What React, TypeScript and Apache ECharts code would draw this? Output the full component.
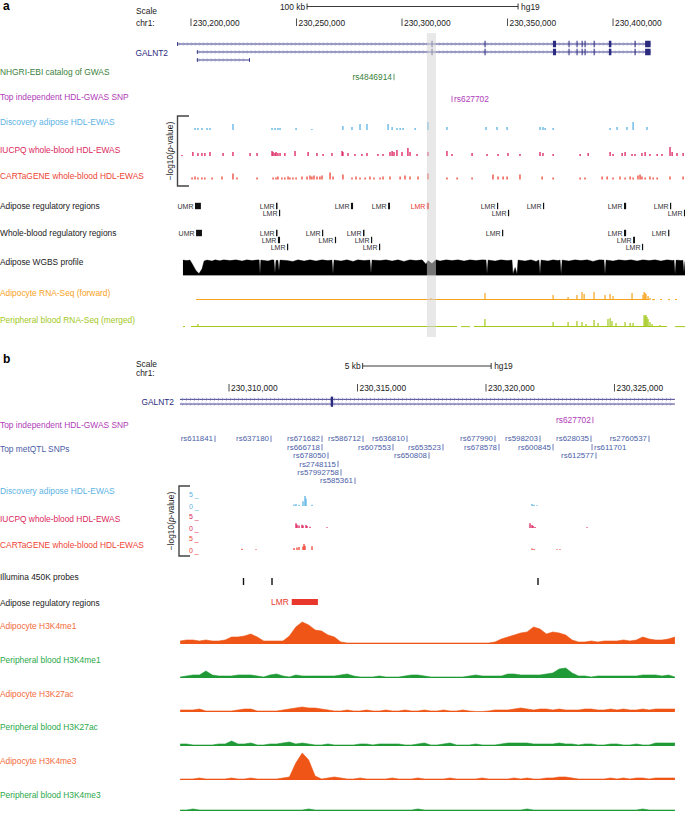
import React, { useEffect, useRef } from "react";
import * as echarts from "echarts";

// ======================= DATA =======================
// All genomic positions are in kb, counted from chr1:230,200,000 (hg19)
const CHR_ORIGIN = 230200000;

const ticksA = [0, 50, 100, 150, 200];
const ticksB = [110, 115, 120, 125];
const scaleBarA = [55, 155];
const scaleBarALabel = "100 kb";
const scaleBarB = [115.2, 120.2];
const scaleBarBLabel = "5 kb";
const assembly = "hg19";
const highlightA = [111.8, 116.1];

// GALNT2 transcripts [start, end, row]
const galnt2TranscriptsA = [[-6.6, 217.8, 0], [2.8, 217.8, 1], [2.8, 27.9, 2]];
const galnt2ExonsA = [[114.0, 114.4], [139.1, 139.6], [171.5, 173.0], [178.9, 179.4], [182.7, 183.2], [185.1, 185.6], [186.5, 187.0], [190.8, 191.3], [198.0, 199.2], [210.2, 210.7], [215.2, 217.8]];
const galnt2StartExonsA = [[-6.6, -6.2, 0], [2.8, 3.2, 1], [2.8, 3.2, 2], [27.5, 27.9, 2]];
const galnt2TranscriptsB = [[108.09, 127.35, 0], [108.09, 127.35, 1]];
const galnt2ExonsB = [[113.96, 114.05]];

// SNP annotations [kb, name, side of text]
const gwasCatalogA = [[96.2, "rs4846914", "left"]];
const topGwasSnpA = [[123.7, "rs627702", "right"]];
const topGwasSnpB = [[124.16, "rs627702", "left"]];

// Top metQTL SNPs [kb, row, name, side]
const metqtlB = [
  [109.455, 0, "rs611841", "left"], [111.634, 0, "rs637180", "left"], [113.619, 0, "rs671682", "left"],
  [115.214, 0, "rs586712", "left"], [116.926, 0, "rs636810", "left"], [120.35, 0, "rs677990", "left"],
  [122.101, 0, "rs598203", "left"], [124.086, 0, "rs628035", "left"], [126.342, 0, "rs2760537", "left"],
  [113.619, 1, "rs666718", "left"], [116.381, 1, "rs607553", "left"], [118.327, 1, "rs653523", "left"],
  [120.506, 1, "rs678578", "left"], [122.607, 1, "rs600845", "left"], [124.125, 1, "rs611701", "right"],
  [113.852, 2, "rs678050", "left"], [117.782, 2, "rs650808", "left"], [124.28, 2, "rs612577", "left"],
  [114.241, 3, "rs2748115", "left"], [114.358, 4, "rs57992758", "left"], [114.903, 5, "rs585361", "left"],
];

// EWAS, panel a [kb, height]
const ewasDiscoveryA = [[1.9,2],[3.3,2],[5.2,2],[7.6,2],[9.0,2],[19.9,6],[38.4,2],[39.8,2],[41.2,2],[42.2,2],[49.8,2],[57.3,1],[72.0,4],[76.3,3],[80.1,6],[83.4,6],[93.4,6],[95.3,3],[97.6,2],[99.1,2],[100.5,2],[106.2,2],[112.3,8],[121.3,3],[139.8,3],[145.0,3],[149.8,3],[165.4,3],[166.8,3],[167.8,2],[171.6,2],[198.6,2],[201.9,3],[206.6,3],[209.5,8],[216.1,3]];
const ewasIucpqA = [[-4.3,1],[0.9,4],[3.3,3],[5.2,3],[6.6,3],[9.0,4],[15.2,3],[19.9,4],[28.0,3],[31.3,3],[38.4,5],[38.9,4],[39.8,3],[40.3,4],[41.2,3],[42.2,3],[44.5,3],[49.3,5],[55.5,4],[59.7,3],[62.6,2],[66.8,3],[71.6,5],[72.0,4],[74.4,3],[77.7,2],[81.0,2],[83.4,3],[88.6,2],[91.0,2],[94.3,4],[95.3,5],[96.2,4],[97.6,6],[100.0,4],[102.8,8],[103.8,4],[107.1,2],[112.3,4],[121.3,5],[123.7,2],[133.2,3],[140.3,2],[145.5,2],[150.2,3],[155.9,2],[165.4,4],[166.8,3],[171.6,2],[184.4,2],[188.2,3],[198.6,4],[200.0,2],[204.3,3],[205.7,4],[209.0,2],[210.4,2],[213.7,3],[215.2,4],[217.5,2],[220.9,2],[223.2,2],[227.0,9],[228.0,4],[230.3,3],[233.2,3]];
const ewasCartagA = [[0.5,2],[1.9,3],[3.3,2],[5.2,2],[6.6,2],[10.0,2],[14.7,3],[19.9,6],[21.8,2],[31.3,2],[38.9,2],[40.3,2],[41.2,3],[43.1,2],[44.5,2],[46.0,3],[46.9,2],[48.3,2],[49.8,2],[52.6,3],[55.0,3],[56.4,4],[57.3,3],[58.3,4],[59.7,3],[61.1,3],[62.1,4],[65.9,7],[67.3,3],[72.0,5],[76.3,2],[78.2,3],[80.1,2],[82.5,2],[84.8,3],[86.7,2],[89.6,2],[91.0,3],[94.3,3],[99.1,3],[101.4,4],[103.8,3],[107.6,3],[112.3,6],[121.3,2],[126.1,2],[133.2,2],[143.1,5],[145.5,3],[147.9,3],[149.8,3],[155.9,5],[166.4,3],[171.6,2],[184.4,2],[186.7,2],[194.8,3],[197.2,3],[200.0,2],[203.3,3],[205.7,2],[208.1,3],[209.5,2],[211.8,4],[212.8,5],[213.7,3],[215.2,2],[217.5,3],[219.0,2],[220.9,2],[227.0,3],[233.2,3]];

// Regulatory regions [start, end, row, label, highlighted]
const regAdiposeA = [
  [1.9, 4.7, 0, "UMR", 0], [40.3, 41.0, 0, "LMR", 0], [75.8, 76.8, 0, "LMR", 0], [93.4, 94.3, 0, "LMR", 0],
  [111.8, 112.8, 0, "LMR", 1], [145.0, 145.5, 0, "LMR", 0], [166.8, 167.3, 0, "LMR", 0], [205.2, 206.2, 0, "LMR", 0],
  [227.0, 227.5, 0, "LMR", 0], [41.7, 42.2, 1, "LMR", 0], [150.2, 150.7, 1, "LMR", 0], [233.6, 234.1, 1, "LMR", 0],
];
const regBloodA = [
  [2.4, 5.2, 0, "UMR", 0], [40.3, 41.0, 0, "LMR", 0], [62.1, 62.6, 0, "LMR", 0], [81.5, 82.2, 0, "LMR", 0],
  [147.4, 147.9, 0, "LMR", 0], [205.2, 206.2, 0, "LMR", 0], [226.1, 226.5, 0, "LMR", 0],
  [41.2, 42.2, 1, "LMR", 0], [68.2, 68.7, 1, "LMR", 0], [85.3, 85.8, 1, "LMR", 0], [209.5, 210.4, 1, "LMR", 0],
  [45.5, 46.0, 2, "LMR", 0], [89.1, 89.6, 2, "LMR", 0], [213.7, 214.2, 2, "LMR", 0],
];

// Adipose WGBS profile [kb, methylation level]
const wgbsA = [[-3.8,0.97],[-1.9,0.93],[-0.5,0.97],[0.5,0.75],[2.4,0.3],[3.8,0.12],[5.2,0.4],[6.2,0.9],[7.6,0.97],[10.0,0.9],[11.4,0.98],[13.7,0.92],[15.6,0.98],[18.5,0.93],[21.3,0.98],[24.2,0.9],[26.5,0.98],[28.9,0.93],[31.8,0.98],[32.3,0.97],[32.7,0.1],[33.1,0.97],[36.5,0.9],[38.4,0.98],[39.3,0.97],[39.8,0.15],[40.3,0.95],[41.2,0.95],[41.7,0.3],[42.2,0.97],[45.5,0.93],[48.3,0.88],[50.7,0.98],[53.6,0.9],[56.4,0.98],[59.2,0.9],[62.1,0.98],[64.9,0.93],[66.8,0.97],[67.3,0.12],[67.8,0.97],[71.1,0.9],[73.9,0.98],[76.8,0.88],[79.1,0.98],[82.0,0.93],[84.8,0.97],[85.3,0.15],[85.8,0.97],[89.6,0.93],[92.4,0.98],[95.3,0.9],[98.1,0.98],[100.9,0.88],[103.8,0.98],[106.6,0.93],[109.5,0.98],[111.4,0.7],[112.3,0.93],[114.2,0.75],[116.1,0.98],[118.0,0.9],[120.9,0.98],[123.7,0.93],[126.5,0.98],[129.4,0.9],[132.2,0.98],[135.1,0.93],[137.9,0.98],[139.8,0.97],[140.3,0.12],[140.8,0.97],[144.1,0.9],[146.9,0.98],[149.8,0.93],[152.1,0.97],[152.6,0.1],[153.6,0.5],[154.5,0.1],[155.0,0.97],[158.3,0.9],[161.1,0.98],[163.5,0.88],[164.9,0.97],[165.4,0.1],[165.9,0.97],[169.2,0.9],[171.6,0.98],[173.9,0.93],[174.9,0.97],[175.4,0.1],[175.9,0.97],[179.1,0.9],[182.0,0.98],[184.8,0.93],[187.7,0.98],[190.5,0.88],[193.4,0.98],[195.7,0.97],[196.2,0.1],[196.7,0.97],[200.0,0.9],[202.8,0.98],[205.7,0.93],[208.5,0.98],[211.4,0.9],[214.2,0.98],[217.1,0.93],[219.9,0.98],[222.7,0.9],[225.6,0.98],[228.4,0.93],[228.9,0.97],[229.4,0.1],[229.9,0.97],[232.7,0.93],[233.1,0.97],[233.6,0.2],[234.1,0.9]];

// RNA-Seq [kb, height] and covered stretches [start, end]
const rnaAdipoA = [[113.7,2],[139.3,7],[171.6,5],[178.7,3],[182.9,5],[185.3,8],[186.3,6],[191.0,8],[196.2,5],[198.6,6],[200.0,4],[209.0,7],[214.2,5],[214.7,8],[215.2,7],[215.6,6],[216.6,4],[217.5,2]];
const rnaAdipoCoveredA = [[2.4,217.1],[218.5,219.9],[222.3,223.2],[226.1,227.0],[229.4,230.3]];
const rnaBloodA = [[3.3,3],[14.7,1],[18.5,1],[25.6,1],[139.3,8],[171.6,5],[178.7,5],[182.9,6],[185.3,5],[187.2,3],[191.0,7],[192.9,4],[197.6,8],[198.6,9],[199.5,6],[201.4,4],[205.7,5],[208.1,4],[209.5,4],[214.7,12],[215.2,11],[215.6,12],[216.1,10],[216.6,8],[217.5,5],[218.5,3],[222.3,2]];
const rnaBloodCoveredA = [[-3.8,-2.8],[0,126.1],[128.0,132.2],[134.1,225.6],[229.4,234.1]];

// EWAS, panel b [kb, -log10 p]
const ewasDiscoveryB = [[112.529,0.6],[112.607,0.8],[112.724,0.5],[112.879,2.0],[112.957,4.2],[112.996,3.0],[113.23,0.5],[121.79,0.8],[121.868,0.5],[121.984,0.3]];
const ewasIucpqB = [[112.607,2.0],[112.646,1.4],[112.724,1.0],[112.84,1.4],[112.879,1.0],[112.996,1.2],[113.035,0.8],[113.152,0.5],[113.813,0.3],[121.712,2.0],[121.79,1.2],[121.829,0.8],[121.907,0.4],[123.93,0.3]];
const ewasCartagB = [[110.506,0.5],[111.051,0.3],[112.529,0.8],[112.646,1.0],[112.724,1.2],[112.879,1.5],[112.918,2.5],[112.957,1.8],[113.23,1.6],[121.79,0.6],[121.868,0.4],[122.763,0.3],[122.879,0.3]];

const illuminaProbesB = [110.564, 111.673, 122.023];
const lmrB = [[112.44, 113.46, "LMR"]];

// Histone ChIP-seq signal, panel b: 0.25 kb bins starting at 108.1 kb
const HIST_START_B = 108.1;
const HIST_BIN_B = 0.25;
const h3k4me1AdipoB = [3,4,4,3,4,3,3,4,7,7,8,10,7,3,3,3,3,8,17,22,19,14,13,9,7,2,1,1,1,1,1,1,1,1,1,1,1,1,1,1,1,1,1,1,1,1,1,1,1,2,5,7,9,11,12,17,15,10,12,11,9,4,2,2,3,2,3,3,3,4,3,4,7,5,4,4,5,7];
const h3k4me1BloodB = [1,2,3,3,7,3,2,2,2,3,3,3,2,1,3,4,2,1,3,2,2,2,2,2,2,3,4,2,1,1,1,2,1,1,1,2,3,3,2,1,1,1,1,1,1,2,3,2,2,2,2,4,4,3,3,3,3,4,5,9,10,5,2,2,1,2,2,2,2,2,2,2,3,3,3,2,3,1];
const h3k27acAdipoB = [2,2,2,3,1,1,1,1,1,2,3,3,1,1,1,1,2,3,4,5,4,4,3,2,1,1,2,1,1,2,1,1,2,1,1,2,1,1,2,1,1,2,1,1,2,1,0.5,0.5,1,2,2,2,3,4,3,2,3,3,2,3,2,2,2,3,3,2,2,3,2,3,2,2,3,2,3,3,3,3];
const h3k27acBloodB = [2,2,1,1,1,1,2,2,5,2,2,3,1,1,2,2,3,4,2,3,2,1,1,2,1,1,1,1,2,2,1,2,2,2,2,1,1,2,3,1,1,2,3,1,1,1,2,1,1,1,2,3,3,3,3,2,2,2,2,3,2,2,1,2,2,1,1,2,2,1,1,2,1,1,3,3,3,3];
const h3k4me3AdipoB = [1,1,1,2,1,1,1,1,2,1,1,2,1,1,1,1,2,3,17,27,20,4,1,2,3,2,1,1,2,1,1,1,1,2,1,1,1,2,1,1,1,1,2,1,1,1,1,2,1,1,1,1,2,1,2,1,1,2,2,3,3,2,1,1,1,1,1,2,1,2,1,2,2,1,2,2,2,2];
const h3k4me3BloodB = [1,1,2,1,1,1,1,1,1,1,1,1,1,1,1,1,1,1,1,1,2,1,1,1,1,1,1,1,1,1,1,1,1,1,1,1,1,2,1,1,1,1,1,1,1,1,1,1,1,1,1,1,1,1,2,1,1,1,1,1,1,1,1,1,1,1,1,1,1,1,1,1,2,1,1,1,1,1];

// ======================= STYLE / LAYOUT =======================
const FONT = '"Liberation Sans", Arial, Helvetica, sans-serif';
const FS = 8.4;
const C = {
  text: "#1a1a1a", gene: "#2b2a7e", chevron: "#7c7ac4", gwas: "#3b7f3b", purple: "#b03bb8",
  blue: "#5cb3e4", crimson: "#dc1f5c", red: "#ee4434", orange: "#f7a21b", lime: "#a2c91c",
  metqtl: "#4b5ea6", hOrange: "#ee5516", hOrangeLabel: "#f26a3a", hGreen: "#1f9a36", hGreenLabel: "#2aa84a",
  lmrRed: "#e8372c",
};
const PANEL_A = { left: 176, width: 509, min: -7.1, max: 234.1 };
const PANEL_B = { left: 180, width: 495, min: 108.093, max: 127.354 };

const labelsA: [string, string, number][] = [
  ["NHGRI-EBI catalog of GWAS", C.gwas, 71.5],
  ["Top independent HDL-GWAS SNP", C.purple, 97],
  ["Discovery adipose HDL-EWAS", C.blue, 122],
  ["IUCPQ whole-blood HDL-EWAS", C.crimson, 150],
  ["CARTaGENE whole-blood HDL-EWAS", C.red, 176],
  ["Adipose regulatory regions", C.text, 206],
  ["Whole-blood regulatory regions", C.text, 233],
  ["Adipose WGBS profile", C.text, 262],
  ["Adipocyte RNA-Seq (forward)", C.orange, 293],
  ["Peripheral blood RNA-Seq (merged)", C.lime, 320],
];
const labelsB: [string, string, number][] = [
  ["Top independent HDL-GWAS SNP", C.purple, 425],
  ["Top metQTL SNPs", C.metqtl, 449],
  ["Discovery adipose HDL-EWAS", C.blue, 490.5],
  ["IUCPQ whole-blood HDL-EWAS", C.crimson, 519],
  ["CARTaGENE whole-blood HDL-EWAS", C.red, 545],
  ["Illumina 450K probes", C.text, 577],
  ["Adipose regulatory regions", C.text, 603],
  ["Adipocyte H3K4me1", C.hOrangeLabel, 626],
  ["Peripheral blood H3K4me1", C.hGreenLabel, 660],
  ["Adipocyte H3K27ac", C.hOrangeLabel, 694],
  ["Peripheral blood H3K27ac", C.hGreenLabel, 727],
  ["Adipocyte H3K4me3", C.hOrangeLabel, 761],
  ["Peripheral blood H3K4me3", C.hGreenLabel, 795],
];

function buildOption() {
  const grid: any[] = [], xAxis: any[] = [], yAxis: any[] = [], series: any[] = [];
  const track = (P: any, top: number, height: number, ymin: number, ymax: number, inverse = false, yExtra: any = null) => {
    const i = grid.length;
    grid.push({ left: P.left, width: P.width, top, height, show: false });
    xAxis.push({ type: "value", gridIndex: i, min: P.min, max: P.max, show: false });
    yAxis.push(Object.assign({ type: "value", gridIndex: i, min: ymin, max: ymax, inverse, show: false }, yExtra || {}));
    return i;
  };
  const custom = (gi: number, data: any[], renderItem: any, z = 2) =>
    series.push({ type: "custom", xAxisIndex: gi, yAxisIndex: gi, data, renderItem, silent: true, z, clip: false });
  const txt = (text: string, x: number, y: number, fill: string, align = "left", size = FS, extra: any = {}) => ({
    type: "text", style: Object.assign({ text, x, y, fill, align, verticalAlign: "middle", fontSize: size, fontFamily: FONT, lineHeight: size }, extra),
  });

  const bars = (gi: number, arr: number[][], color: string, w = 1.3) =>
    custom(gi, arr.map((d) => [d[0], d[1]]), (p: any, api: any) => {
      const d = arr[p.dataIndex];
      const b = api.coord([d[0], 0]);
      const t = api.coord([d[0], d[1]]);
      return { type: "rect", shape: { x: b[0] - w / 2, y: t[1], width: w, height: Math.max(0.6, b[1] - t[1]) }, style: { fill: color } };
    });
  const covered = (gi: number, arr: number[][], color: string) =>
    custom(gi, arr.map((d) => [d[0], 0]), (p: any, api: any) => {
      const d = arr[p.dataIndex];
      const a = api.coord([d[0], 0]);
      const b = api.coord([d[1], 0]);
      return { type: "rect", shape: { x: a[0], y: a[1] - 0.9, width: Math.max(1, b[0] - a[0]), height: 1 }, style: { fill: color } };
    });
  const area = (gi: number, vals: number[], color: string) =>
    series.push({
      type: "line", xAxisIndex: gi, yAxisIndex: gi, silent: true, symbol: "none", showSymbol: false, smooth: false,
      data: vals.map((v, i) => [HIST_START_B + i * HIST_BIN_B, v]),
      lineStyle: { width: 0.6, color }, areaStyle: { color, opacity: 1 },
    });
  const tickLabels = (gi: number, ticks: number[]) =>
    custom(gi, ticks.map((t) => [t, 0.5]), (p: any, api: any) => {
      const c = api.coord([ticks[p.dataIndex], 0.5]);
      return {
        type: "group", children: [
          { type: "line", shape: { x1: c[0], y1: c[1] - 4, x2: c[0], y2: c[1] + 3.5 }, style: { stroke: "#222", lineWidth: 0.8 } },
          txt((CHR_ORIGIN + ticks[p.dataIndex] * 1000).toLocaleString("en-US"), c[0] + 2, c[1], C.text),
        ],
      };
    });
  const scaleBar = (gi: number, bar: number[], label: string) =>
    custom(gi, [[bar[0], 0.5]], (p: any, api: any) => {
      const a = api.coord([bar[0], 0.5]);
      const b = api.coord([bar[1], 0.5]);
      const st = { stroke: "#222", lineWidth: 0.9 };
      return {
        type: "group", children: [
          { type: "line", shape: { x1: a[0], y1: a[1], x2: b[0], y2: b[1] }, style: st },
          { type: "line", shape: { x1: a[0], y1: a[1] - 3, x2: a[0], y2: a[1] + 3 }, style: st },
          { type: "line", shape: { x1: b[0], y1: b[1] - 3, x2: b[0], y2: b[1] + 3 }, style: st },
          txt(label, a[0] - 2, a[1], C.text, "right"),
          txt(assembly, b[0] + 3, b[1], C.text, "left"),
        ],
      };
    });
  const transcripts = (gi: number, arr: number[][]) =>
    custom(gi, arr.map((d) => [d[0], d[2]]), (p: any, api: any) => {
      const t = arr[p.dataIndex];
      const a = api.coord([t[0], t[2]]);
      const b = api.coord([t[1], t[2]]);
      const y = a[1];
      const children: any[] = [{ type: "line", shape: { x1: a[0], y1: y, x2: b[0], y2: y }, style: { stroke: C.gene, lineWidth: 0.9 } }];
      for (let x = a[0] + 3; x < b[0] - 2; x += 4) {
        children.push({ type: "polyline", shape: { points: [[x - 1.1, y - 1.6], [x + 0.5, y], [x - 1.1, y + 1.6]] }, style: { stroke: C.chevron, lineWidth: 0.6, fill: null } });
      }
      return { type: "group", children };
    });
  const blocks = (gi: number, arr: number[][], color: string, h: number, minW = 1) =>
    custom(gi, arr.map((d) => [d[0], d[2]]), (p: any, api: any) => {
      const d = arr[p.dataIndex];
      const a = api.coord([d[0], d[2]]);
      const b = api.coord([d[1], d[2]]);
      return { type: "rect", shape: { x: a[0], y: a[1] - h / 2, width: Math.max(minW, b[0] - a[0]), height: h }, style: { fill: color } };
    });
  const regions = (gi: number, arr: any[][]) =>
    custom(gi, arr.map((d) => [d[0], d[2]]), (p: any, api: any) => {
      const d = arr[p.dataIndex];
      const a = api.coord([d[0], d[2]]);
      const b = api.coord([d[1], d[2]]);
      const col = d[4] ? C.lmrRed : "#111";
      return {
        type: "group", children: [
          { type: "rect", shape: { x: a[0], y: a[1] - 3.2, width: Math.max(1.2, b[0] - a[0]), height: 6.4 }, style: { fill: col } },
          txt(d[3], a[0] - 1.5, a[1] + 0.3, d[4] ? C.lmrRed : "#333", "right", 7),
        ],
      };
    });
  const snpLabels = (gi: number, arr: any[][], color: string, rowIdx: number | null, size = FS) =>
    custom(gi, arr.map((d) => [d[0], rowIdx === null ? 0.5 : d[rowIdx]]), (p: any, api: any) => {
      const d = arr[p.dataIndex];
      const row = rowIdx === null ? 0.5 : d[rowIdx];
      const name = rowIdx === null ? d[1] : d[2];
      const side = rowIdx === null ? d[2] : d[3];
      const c = api.coord([d[0], row]);
      const t = side === "left" ? txt(name, c[0] - 2, c[1], color, "right", size) : txt(name, c[0] + 2, c[1], color, "left", size);
      return {
        type: "group", children: [
          { type: "line", shape: { x1: c[0], y1: c[1] - 3.2, x2: c[0], y2: c[1] + 3.2 }, style: { stroke: color, lineWidth: 0.8 } },
          t,
        ],
      };
    });

  // ---------- panel a ----------
  scaleBar(track(PANEL_A, 2, 9, 0, 1), scaleBarA, scaleBarALabel);
  tickLabels(track(PANEL_A, 18, 9, 0, 1), ticksA);
  const gA = track(PANEL_A, 40, 24, -0.5, 2.5, true);
  transcripts(gA, galnt2TranscriptsA);
  const exA: number[][] = [];
  galnt2ExonsA.forEach((e) => { exA.push([e[0], e[1], 0]); exA.push([e[0], e[1], 1]); });
  blocks(gA, exA, C.gene, 6.5, 1);
  blocks(gA, galnt2StartExonsA, C.gene, 4, 0.8);
  snpLabels(track(PANEL_A, 73, 8, 0, 1), gwasCatalogA, C.gwas, null);
  snpLabels(track(PANEL_A, 95, 8, 0, 1), topGwasSnpA, C.purple, null);
  bars(track(PANEL_A, 120, 10, 0, 10), ewasDiscoveryA, C.blue);
  bars(track(PANEL_A, 146, 10, 0, 10), ewasIucpqA, C.crimson);
  bars(track(PANEL_A, 169.5, 10, 0, 10), ewasCartagA, C.red);
  regions(track(PANEL_A, 202.5, 14, -0.5, 1.5, true), regAdiposeA);
  regions(track(PANEL_A, 229.5, 21, -0.5, 2.5, true), regBloodA);
  const gW = track(PANEL_A, 259.5, 16, 0, 1);
  series.push({
    type: "line", xAxisIndex: gW, yAxisIndex: gW, silent: true, symbol: "none", showSymbol: false,
    data: wgbsA, lineStyle: { width: 0.4, color: "#000" }, areaStyle: { color: "#000", opacity: 1 },
  });
  const gR1 = track(PANEL_A, 290, 10, 0, 10);
  covered(gR1, rnaAdipoCoveredA, C.orange);
  bars(gR1, rnaAdipoA, C.orange, 1.2);
  const gR2 = track(PANEL_A, 315, 12, 0, 12);
  covered(gR2, rnaBloodCoveredA, C.lime);
  bars(gR2, rnaBloodA, C.lime, 1.2);
  const gH = track(PANEL_A, 33, 304, 0, 1);
  custom(gH, [[highlightA[0], 0]], (p: any, api: any) => {
    const a = api.coord([highlightA[0], 1]);
    const b = api.coord([highlightA[1], 0]);
    return { type: "rect", shape: { x: a[0], y: a[1], width: b[0] - a[0], height: b[1] - a[1] }, style: { fill: "#d6d6d6", opacity: 0.55 } };
  }, 10);

  // ---------- panel b ----------
  scaleBar(track(PANEL_B, 361.5, 9, 0, 1), scaleBarB, scaleBarBLabel);
  tickLabels(track(PANEL_B, 383.5, 9, 0, 1), ticksB);
  const gB = track(PANEL_B, 397, 9.4, -0.5, 1.5, true);
  transcripts(gB, galnt2TranscriptsB);
  const exB: number[][] = [];
  galnt2ExonsB.forEach((e) => { exB.push([e[0], e[1], 0]); exB.push([e[0], e[1], 1]); });
  blocks(gB, exB, C.gene, 5.5, 1.6);
  snpLabels(track(PANEL_B, 416, 8, 0, 1), topGwasSnpB, C.purple, null);
  snpLabels(track(PANEL_B, 434.6, 50.4, -0.5, 5.5, true), metqtlB, C.metqtl, 1, 7.9);
  const ewasAxis = (color: string) => ({
    show: true, interval: 5,
    axisLine: { show: false }, axisTick: { show: false }, splitLine: { show: false },
    axisLabel: { show: true, inside: true, margin: 9, formatter: "{value} _", color, fontSize: 7, fontFamily: FONT, verticalAlign: "middle", padding: [0, 0, 3, 0] },
  });
  bars(track(PANEL_B, 494, 12, 0, 5, false, ewasAxis(C.blue)), ewasDiscoveryB, C.blue);
  bars(track(PANEL_B, 516, 12, 0, 5, false, ewasAxis(C.crimson)), ewasIucpqB, C.crimson);
  bars(track(PANEL_B, 538, 12, 0, 5, false, ewasAxis(C.red)), ewasCartagB, C.red);
  bars(track(PANEL_B, 578, 7, 0, 1), illuminaProbesB.map((x) => [x, 1]), "#111", 1.4);
  const gL = track(PANEL_B, 598, 8, 0, 1);
  custom(gL, lmrB.map((d) => [d[0] as number, 0.5]), (p: any, api: any) => {
    const d = lmrB[p.dataIndex];
    const a = api.coord([d[0], 0.5]);
    const b = api.coord([d[1], 0.5]);
    return {
      type: "group", children: [
        { type: "rect", shape: { x: a[0], y: a[1] - 3, width: b[0] - a[0], height: 6 }, style: { fill: C.lmrRed } },
        txt(d[2] as string, a[0] - 3, a[1], C.lmrRed, "right", FS),
      ],
    };
  });
  area(track(PANEL_B, 620, 24, 0, 24), h3k4me1AdipoB, C.hOrange);
  area(track(PANEL_B, 664, 14, 0, 14), h3k4me1BloodB, C.hGreen);
  area(track(PANEL_B, 700, 12, 0, 12), h3k27acAdipoB, C.hOrange);
  area(track(PANEL_B, 734, 12, 0, 12), h3k27acBloodB, C.hGreen);
  area(track(PANEL_B, 750, 30, 0, 30), h3k4me3AdipoB, C.hOrange);
  area(track(PANEL_B, 801, 10, 0, 10), h3k4me3BloodB, C.hGreen);

  // ---------- static texts ----------
  const gtxt = (text: string, x: number, y: number, fill: string, size = FS, extra: any = {}) => ({
    type: "text", x, y, silent: true,
    style: Object.assign({ text, fill, fontSize: size, fontFamily: FONT, align: "left", verticalAlign: "middle" }, extra),
  });
  const elements: any[] = [];
  elements.push(gtxt("a", 3, 6, "#000", 12, { fontWeight: "bold" }));
  elements.push(gtxt("b", 3, 359, "#000", 12, { fontWeight: "bold" }));
  elements.push(gtxt("Scale", 136, 11, C.text));
  elements.push(gtxt("chr1:", 136, 22.5, C.text));
  elements.push(gtxt("Scale", 136, 364, C.text));
  elements.push(gtxt("chr1:", 136, 373, C.text));
  elements.push(gtxt("GALNT2", 168, 53, C.gene, FS, { align: "right" }));
  elements.push(gtxt("GALNT2", 174, 402, C.gene, FS, { align: "right" }));
  labelsA.forEach(([t, c, y]) => elements.push(gtxt(t, 0, y, c)));
  labelsB.forEach(([t, c, y]) => elements.push(gtxt(t, 0, y, c)));
  const rich = { a: { fontSize: FS, fontFamily: FONT, fill: C.text }, i: { fontSize: FS, fontFamily: FONT, fill: C.text, fontStyle: "italic" } };
  const pv = "{a|\u2212log10(}{i|p}{a|-value)}";
  elements.push({ type: "text", x: 170, y: 151, rotation: Math.PI / 2, silent: true, style: { text: pv, rich, align: "center", verticalAlign: "middle" } });
  elements.push({ type: "text", x: 171, y: 521, rotation: Math.PI / 2, silent: true, style: { text: pv, rich, align: "center", verticalAlign: "middle" } });
  elements.push({ type: "polyline", silent: true, shape: { points: [[189, 116], [177.5, 116], [177.5, 186], [189, 186]] }, style: { stroke: "#444", lineWidth: 1.4, fill: null } });
  elements.push({ type: "polyline", silent: true, shape: { points: [[190, 486], [179, 486], [179, 556], [190, 556]] }, style: { stroke: "#444", lineWidth: 1.4, fill: null } });

  return {
    animation: false,
    backgroundColor: "#ffffff",
    grid, xAxis, yAxis, series,
    graphic: { elements },
  };
}

export default function App() {
  const ref = useRef<HTMLDivElement>(null);
  useEffect(() => {
    if (!ref.current) return;
    const chart = echarts.init(ref.current, null, { renderer: "svg" });
    chart.setOption(buildOption() as any);
    return () => chart.dispose();
  }, []);
  return <div ref={ref} style={{ position: "absolute", left: 0, top: 0, width: 685, height: 815 }} />;
}
